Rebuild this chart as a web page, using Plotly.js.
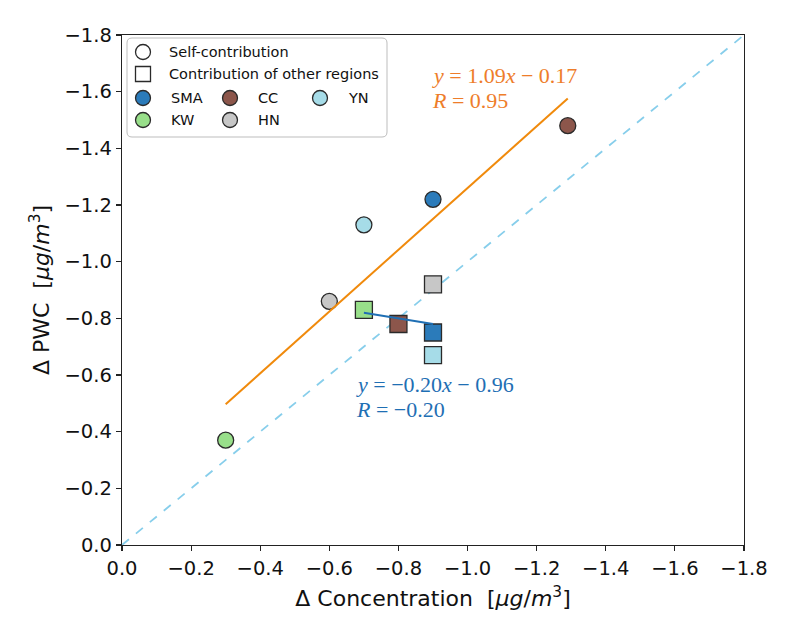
<!DOCTYPE html>
<html>
<head>
<meta charset="utf-8">
<script src="https://cdn.plot.ly/plotly-3.0.1.min.js"></script>
<style>html,body{margin:0;padding:0;background:#fff;}#chart{width:800px;height:632px;}</style>
</head>
<body>
<div id="chart"></div>
<script>
// ---- data ----
var regions = ['SMA', 'CC', 'YN', 'KW', 'HN'];
var selfX  = [-0.90, -1.29, -0.70, -0.30, -0.60];
var selfY  = [-1.22, -1.48, -1.13, -0.37, -0.86];
var otherX = [-0.90, -0.80, -0.90, -0.70, -0.90];
var otherY = [-0.75, -0.78, -0.67, -0.83, -0.92];
var selfFit  = {slope: 1.09, intercept: -0.17, R: 0.95};
var otherFit = {slope: -0.20, intercept: -0.96, R: -0.20};
var tickVals = [0, -0.2, -0.4, -0.6, -0.8, -1.0, -1.2, -1.4, -1.6, -1.8];
var tickText = ['0.0', '\u22120.2', '\u22120.4', '\u22120.6', '\u22120.8', '\u22121.0', '\u22121.2', '\u22121.4', '\u22121.6', '\u22121.8'];

// ---- styles ----
var regionColors = ['#2b7bba', '#8c564b', '#a6dce8', '#98df8a', '#c7c7c7'];
var edge = '#2a2a2a';
var orange = '#f08a0c';
var blue = '#1f6fb4';

function fitLine(xs, f) {
  var lo = Math.min.apply(null, xs), hi = Math.max.apply(null, xs);
  return {x: [lo, hi], y: [f.slope * lo + f.intercept, f.slope * hi + f.intercept]};
}
var sl = fitLine(selfX, selfFit);
var ol = fitLine(otherX, otherFit);

var traces = [];
traces.push({x: [0, -1.8], y: [0, -1.8], mode: 'lines', line: {color: '#87ceeb', width: 1.8, dash: 'dash'}, hoverinfo: 'skip'});
for (var i = 0; i < regions.length; i++) {
  traces.push({x: [selfX[i]], y: [selfY[i]], mode: 'markers', name: regions[i],
    marker: {symbol: 'circle', size: 16, color: regionColors[i], line: {color: edge, width: 1.3}}});
}
for (var i = 0; i < regions.length; i++) {
  traces.push({x: [otherX[i]], y: [otherY[i]], mode: 'markers', name: regions[i],
    marker: {symbol: 'square', size: 17, color: regionColors[i], line: {color: edge, width: 1.3}}});
}
traces.push({x: sl.x, y: sl.y, mode: 'lines', line: {color: orange, width: 2}});
traces.push({x: ol.x, y: ol.y, mode: 'lines', line: {color: blue, width: 2}});

// legend helpers (paper coords)
function px(p) { return (p - 122) / 622; }
function py(p) { return (545 - p) / 510; }
var shapes = [];
var annotations = [];
(function () {
  var x0 = 127, x1 = 387, y0 = 38, y1 = 137, r = 5;
  var d = 'M' + px(x0 + r) + ',' + py(y0) +
    ' L' + px(x1 - r) + ',' + py(y0) + ' Q' + px(x1) + ',' + py(y0) + ' ' + px(x1) + ',' + py(y0 + r) +
    ' L' + px(x1) + ',' + py(y1 - r) + ' Q' + px(x1) + ',' + py(y1) + ' ' + px(x1 - r) + ',' + py(y1) +
    ' L' + px(x0 + r) + ',' + py(y1) + ' Q' + px(x0) + ',' + py(y1) + ' ' + px(x0) + ',' + py(y1 - r) +
    ' L' + px(x0) + ',' + py(y0 + r) + ' Q' + px(x0) + ',' + py(y0) + ' ' + px(x0 + r) + ',' + py(y0) + ' Z';
  shapes.push({type: 'path', xref: 'paper', yref: 'paper', path: d, fillcolor: 'rgba(255,255,255,0.85)', line: {color: '#bdbdbd', width: 1}});
})();
function legMark(type, x, y, fill) {
  shapes.push({type: type, xref: 'paper', yref: 'paper', xsizemode: 'pixel', ysizemode: 'pixel',
    xanchor: px(x), yanchor: py(y), x0: -7.5, x1: 7.5, y0: -7.5, y1: 7.5,
    fillcolor: fill, line: {color: edge, width: 1.3}});
}
function legText(t, x, y) {
  annotations.push({xref: 'paper', yref: 'paper', x: px(x), y: py(y), xanchor: 'left', yanchor: 'middle',
    text: t, showarrow: false, font: {family: 'DejaVu Sans', size: 14.5, color: '#111'}});
}
legMark('circle', 143, 52, '#ffffff'); legText('Self-contribution', 167, 52);
legMark('rect', 143, 74, '#ffffff'); legText('Contribution of other regions', 167, 74);
var legPos = [[143, 98], [230, 98], [320, 98], [143, 120], [230, 120]];
for (var i = 0; i < regions.length; i++) {
  legMark('circle', legPos[i][0], legPos[i][1], regionColors[i]);
  legText(regions[i], legPos[i][0] + 26, legPos[i][1]);
}

var serif = 'Liberation Serif, DejaVu Serif, serif';
annotations.push({xref: 'paper', yref: 'paper', x: px(430), y: py(75), xanchor: 'left', yanchor: 'middle', showarrow: false,
  text: '<i>y</i> = ' + selfFit.slope.toFixed(2) + '<i>x</i> \u2212 ' + Math.abs(selfFit.intercept).toFixed(2),
  font: {family: serif, size: 22, color: '#ee7d2a'}});
annotations.push({xref: 'paper', yref: 'paper', x: px(430), y: py(101), xanchor: 'left', yanchor: 'middle', showarrow: false,
  text: '<i>R</i> = ' + selfFit.R.toFixed(2), font: {family: serif, size: 22, color: '#ee7d2a'}});
annotations.push({xref: 'paper', yref: 'paper', x: px(354), y: py(384), xanchor: 'left', yanchor: 'middle', showarrow: false,
  text: '<i>y</i> = \u2212' + Math.abs(otherFit.slope).toFixed(2) + '<i>x</i> \u2212 ' + Math.abs(otherFit.intercept).toFixed(2),
  font: {family: serif, size: 22, color: blue}});
annotations.push({xref: 'paper', yref: 'paper', x: px(354), y: py(409), xanchor: 'left', yanchor: 'middle', showarrow: false,
  text: '<i>R</i> = \u2212' + Math.abs(otherFit.R).toFixed(2), font: {family: serif, size: 22, color: blue}});

var axisCommon = {
  range: [0, -1.8], tickvals: tickVals, ticktext: tickText, ticks: 'outside', ticklen: 5, tickwidth: 1.2,
  tickcolor: '#222', showgrid: false, zeroline: false, showline: true, linecolor: '#222', linewidth: 1.2, mirror: true,
  tickfont: {family: 'DejaVu Sans', size: 19.5, color: '#111'}
};
var layout = {
  width: 800, height: 632, paper_bgcolor: '#fff', plot_bgcolor: '#fff', showlegend: false,
  margin: {l: 122, r: 56, t: 35, b: 87},
  xaxis: Object.assign({}, axisCommon, {title: {text: '\u0394 Concentration  [<i>\u03bcg</i>/<i>m</i><sup>3</sup>]', font: {family: 'DejaVu Sans', size: 22, color: '#111'}, standoff: 12}}),
  yaxis: Object.assign({}, axisCommon, {title: {text: '\u0394 PWC  [<i>\u03bcg</i>/<i>m</i><sup>3</sup>]', font: {family: 'DejaVu Sans', size: 22, color: '#111'}, standoff: 8}}),
  shapes: shapes, annotations: annotations
};
Plotly.newPlot('chart', traces, layout, {staticPlot: true});
</script>
</body>
</html>
